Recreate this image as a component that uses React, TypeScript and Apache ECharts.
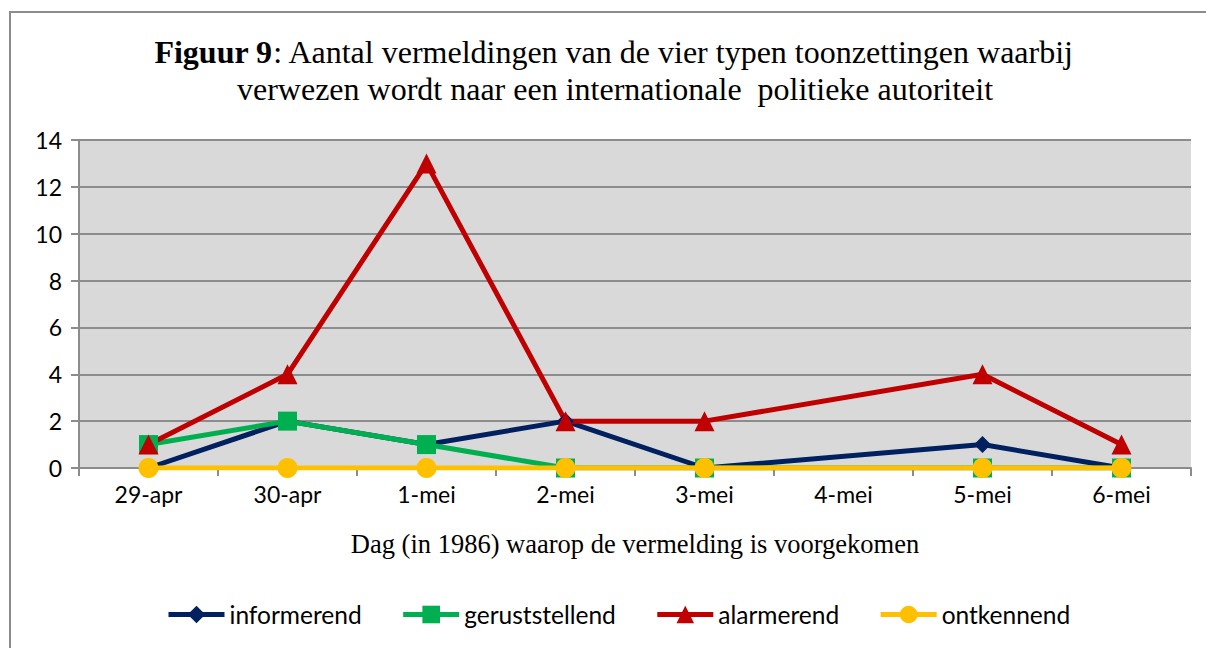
import React, { useEffect, useRef } from "react";
import * as echarts from "echarts";

const categories = ["29-apr", "30-apr", "1-mei", "2-mei", "3-mei", "4-mei", "5-mei", "6-mei"];
const informerend = [0, 2, 1, 2, 0, null, 1, 0];
const geruststellend = [1, 2, 1, 0, 0, null, 0, 0];
const alarmerend = [1, 4, 13, 2, 2, null, 4, 1];
const ontkennend = [0, 0, 0, 0, 0, null, 0, 0];
const seriesNames = ["informerend", "geruststellend", "alarmerend", "ontkennend"];
const yTicks = { min: 0, max: 14, interval: 2 };

const titleLine1 = "{b|Figuur 9}: Aantal vermeldingen van de vier typen toonzettingen waarbij";
const titleLine2 = "verwezen wordt naar een internationale  politieke autoriteit";
const xAxisName = "Dag (in 1986) waarop de vermelding is voorgekomen";

const SERIF = "'Times New Roman', 'Liberation Serif', serif";
const SANS = "Lato, Carlito, Calibri, sans-serif";

export default function App() {
  const ref = useRef<HTMLDivElement>(null);
  useEffect(() => {
    document.body.style.margin = "0";
    const chart = echarts.init(ref.current!, null, { renderer: "svg" });
    const mk = (name: string, data: (number | null)[], color: string, symbol: string, size: number) => ({
      name,
      type: "line",
      data,
      connectNulls: true,
      symbol,
      symbolSize: size,
      lineStyle: { color, width: 5 },
      itemStyle: { color, borderWidth: 0 },
      emphasis: { disabled: true },
    });
    chart.setOption({
      animation: false,
      backgroundColor: "#fff",
      graphic: [
        {
          type: "rect",
          shape: { x: 10, y: 12, width: 1230, height: 680 },
          style: { fill: "none", stroke: "#8c8c8c", lineWidth: 2 },
          z: 0,
        },
        {
          type: "text",
          x: 614,
          y: 52,
          style: {
            text: titleLine1,
            fontFamily: SERIF,
            fontSize: 32,
            fill: "#000",
            align: "center",
            verticalAlign: "middle",
            rich: { b: { fontFamily: SERIF, fontSize: 32, fontWeight: "bold", fill: "#000" } },
          },
        },
        {
          type: "text",
          x: 615,
          y: 89,
          style: {
            text: titleLine2,
            fontFamily: SERIF,
            fontSize: 32,
            fill: "#000",
            align: "center",
            verticalAlign: "middle",
          },
        },
        {
          type: "text",
          x: 635,
          y: 544,
          style: {
            text: xAxisName,
            fontFamily: SERIF,
            fontSize: 26.5,
            fill: "#000",
            align: "center",
            verticalAlign: "middle",
          },
        },
      ],
      grid: {
        left: 79,
        right: 15,
        top: 140,
        bottom: 180,
        show: true,
        backgroundColor: "#D9D9D9",
        borderWidth: 0,
      },
      legend: {
        data: seriesNames,
        top: 597,
        left: 161,
        itemWidth: 56,
        itemHeight: 22,
        itemGap: 39,
        lineStyle: { width: 5 },
        textStyle: { fontFamily: SANS, fontSize: 24.5, color: "#000" },
      },
      xAxis: {
        type: "category",
        data: categories,
        boundaryGap: true,
        axisLine: { lineStyle: { color: "#8c8c8c", width: 2 } },
        axisTick: { show: true, length: 8, lineStyle: { color: "#8c8c8c", width: 2 } },
        axisLabel: { fontFamily: SANS, fontSize: 23, color: "#000", margin: 14 },
      },
      yAxis: {
        type: "value",
        min: yTicks.min,
        max: yTicks.max,
        interval: yTicks.interval,
        axisLine: { show: true, lineStyle: { color: "#8c8c8c", width: 2 } },
        axisTick: { show: true, length: 8, lineStyle: { color: "#8c8c8c", width: 2 } },
        axisLabel: { fontFamily: SANS, fontSize: 23, color: "#000", margin: 17 },
        splitLine: { show: true, lineStyle: { color: "#8c8c8c", width: 2 } },
      },
      series: [
        mk(seriesNames[0], informerend, "#002060", "diamond", 17),
        mk(seriesNames[1], geruststellend, "#00B050", "rect", 19),
        mk(seriesNames[2], alarmerend, "#C00000", "triangle", 20),
        mk(seriesNames[3], ontkennend, "#FFC000", "circle", 20),
      ],
    });
    return () => chart.dispose();
  }, []);
  return <div ref={ref} style={{ width: 1206, height: 648 }} />;
}
